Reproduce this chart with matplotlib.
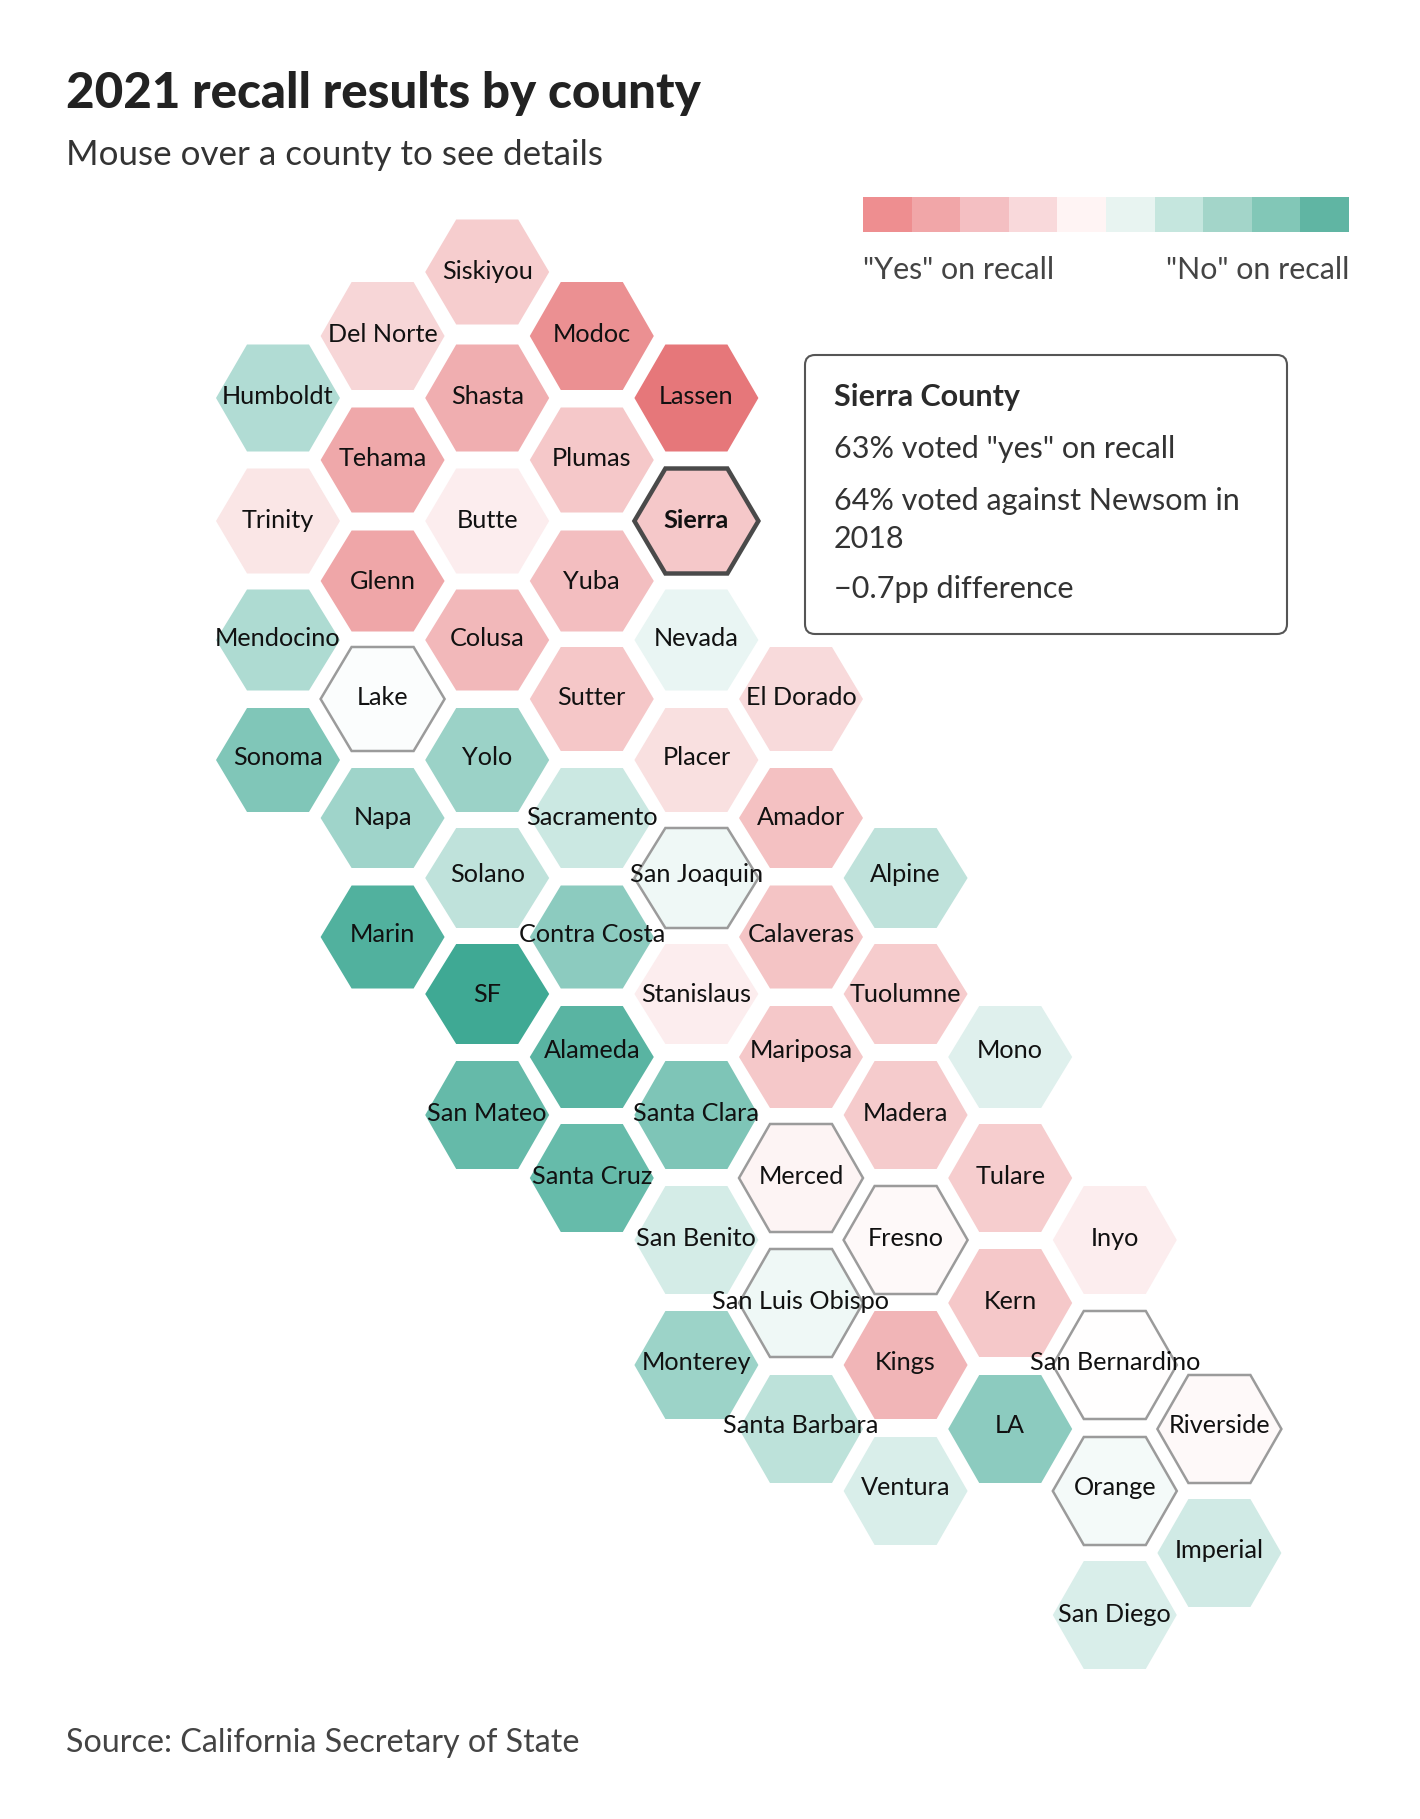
import matplotlib
matplotlib.use("Agg")
import matplotlib.pyplot as plt
from matplotlib.colors import LinearSegmentedColormap
from matplotlib.patches import Polygon, FancyBboxPatch, Rectangle

# hex map: county, column, row on the grid, shade (+ leans "yes", - leans "no")
counties = ["Siskiyou", "Del Norte", "Modoc", "Humboldt", "Shasta", "Lassen", "Tehama", "Plumas",
            "Trinity", "Butte", "Sierra", "Glenn", "Yuba", "Mendocino", "Colusa", "Nevada",
            "Lake", "Sutter", "El Dorado", "Sonoma", "Yolo", "Placer", "Napa", "Sacramento",
            "Amador", "Solano", "San Joaquin", "Alpine", "Marin", "Contra Costa", "Calaveras",
            "SF", "Stanislaus", "Tuolumne", "Alameda", "Mariposa", "Mono", "San Mateo",
            "Santa Clara", "Madera", "Santa Cruz", "Merced", "Tulare", "San Benito", "Fresno",
            "Inyo", "San Luis Obispo", "Kern", "Monterey", "Kings", "San Bernardino",
            "Santa Barbara", "LA", "Riverside", "Ventura", "Orange", "Imperial", "San Diego"]
cols = [2, 1, 3, 0, 2, 4, 1, 3,
        0, 2, 4, 1, 3, 0, 2, 4,
        1, 3, 5, 0, 2, 4, 1, 3,
        5, 2, 4, 6, 1, 3, 5,
        2, 4, 6, 3, 5, 7, 2,
        4, 6, 3, 5, 7, 4, 6,
        8, 5, 7, 4, 6, 8,
        5, 7, 9, 6, 8, 9, 8]
rows = [0, 1, 1, 2, 2, 2, 3, 3,
        4, 4, 4, 5, 5, 6, 6, 6,
        7, 7, 7, 8, 8, 8, 9, 9,
        9, 10, 10, 10, 11, 11, 11,
        12, 12, 12, 13, 13, 13, 14,
        14, 14, 15, 15, 15, 16, 16,
        16, 17, 17, 18, 18, 18,
        19, 19, 19, 20, 20, 21, 22]
shade = [.36, .30, .82, -.40, .59, 1.0, .64, .40,
         .18, .125, .40, .65, .47, -.42, .52, -.115,
         -.02, .41, .27, -.66, -.52, .23, -.50, -.27,
         .46, -.33, -.08, -.33, -.90, -.60, .43,
         -1.0, .125, .37, -.86, .40, -.17, -.80,
         -.67, .38, -.79, .08, .36, -.22, .04,
         .13, -.08, .40, -.51, .54, 0.0,
         -.34, -.60, .04, -.20, -.06, -.25, -.20]

legend_colors = ["#ee8e90", "#f1a6a8", "#f4bfc2", "#f9d9db", "#fff4f4",
                 "#e8f4f1", "#c5e6de", "#a3d5c9", "#82c7b7", "#60b5a3"]

# the map rows are not evenly spaced in the picture
row_y = [272, 336, 398, 460, 521, 581, 640, 699, 760, 818, 878, 937, 994, 1057,
         1115, 1178, 1240, 1303, 1365, 1429, 1491, 1553, 1615]
row_h = [105, 108, 107, 105, 105, 101, 101, 104, 104, 100, 100, 103, 100, 102,
         108, 108, 108, 108, 108, 108, 108, 108, 108]
row_baseline = [279, 342, 404, 466, 528, 589, 646, 705, 765, 825, 882, 942, 1002, 1058,
                1121, 1184, 1246, 1309, 1370, 1433, 1495, 1558, 1622]

plt.rcParams["font.family"] = ["Lato", "DejaVu Sans"]

fig = plt.figure(figsize=(14.2, 18.19), dpi=100)
ax = fig.add_axes([0, 0, 1, 1])
ax.set_xlim(0, 1420)
ax.set_ylim(1819, 0)
ax.axis("off")

cmap = LinearSegmentedColormap.from_list("recall", ["#3fa994", "#ffffff", "#e6777a"])

hex_w = 124
for name, c, r, v in zip(counties, cols, rows, shade):
    x = 278 + 104.6 * c
    y = row_y[r]
    h = row_h[r]
    pts = [(x - hex_w / 2, y), (x - hex_w / 4, y - h / 2), (x + hex_w / 4, y - h / 2),
           (x + hex_w / 2, y), (x + hex_w / 4, y + h / 2), (x - hex_w / 4, y + h / 2)]
    face = cmap((v + 1) / 2)
    if name == "Sierra":
        ax.add_patch(Polygon(pts, closed=True, fc=face, ec="#4a4a4a", lw=3.2, zorder=3))
    elif abs(v) <= .08:
        ax.add_patch(Polygon(pts, closed=True, fc=face, ec="#9b9b9b", lw=1.8, zorder=2))
    else:
        ax.add_patch(Polygon(pts, closed=True, fc=face, ec="none", zorder=1))
    ax.text(x, row_baseline[r], name, ha="center", va="baseline", fontsize=18.2, color="#111111", zorder=5,
            fontweight="bold" if name == "Sierra" else "normal")

# title block
ax.text(66, 93, "2021 recall results by county", fontsize=35.5, fontweight="black",
        color="#222222", va="center")
ax.text(66, 155, "Mouse over a county to see details", fontsize=25.2, color="#333333", va="center")

# legend
for i, col in enumerate(legend_colors):
    ax.add_patch(Rectangle((863 + 48.6 * i, 197), 48.6, 35, fc=col, ec="none"))
ax.text(863, 270, '"Yes" on recall', fontsize=21.9, color="#444444", va="center")
ax.text(1349, 270, '"No" on recall', fontsize=21.9, color="#444444", va="center", ha="right")

# tooltip box
ax.add_patch(FancyBboxPatch((805, 355), 482, 279, boxstyle="round,pad=0,rounding_size=10",
                            fc="white", ec="#555555", lw=1.5, zorder=6))
ax.text(834, 397, "Sierra County", fontsize=22, fontweight="bold", color="#2a2a2a", va="center", zorder=7)
ax.text(834, 449, '63% voted "yes" on recall', fontsize=22, color="#333333", va="center", zorder=7)
ax.text(834, 501, "64% voted against Newsom in", fontsize=22, color="#333333", va="center", zorder=7)
ax.text(834, 539, "2018", fontsize=22, color="#333333", va="center", zorder=7)
ax.text(834, 589, "\u22120.7pp difference", fontsize=22, color="#333333", va="center", zorder=7)

ax.text(66, 1743, "Source: California Secretary of State", fontsize=23.2, color="#444444", va="center")

fig.savefig("out.png", dpi=100)
